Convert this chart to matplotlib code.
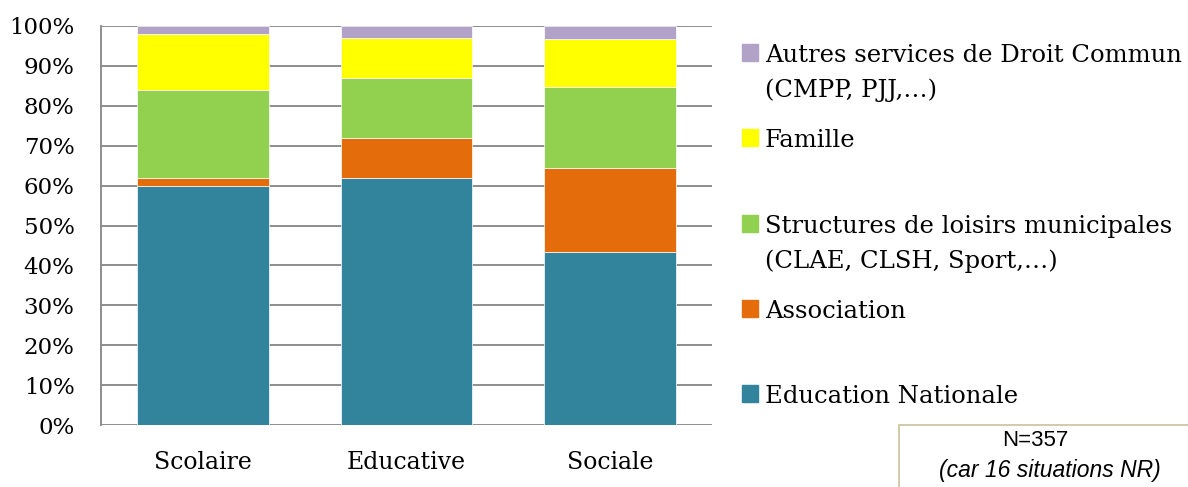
import matplotlib.pyplot as plt
from matplotlib.patches import Rectangle
from matplotlib.ticker import PercentFormatter, MultipleLocator

# Données
categories = ["Scolaire", "Educative", "Sociale"]
series_names = [
    "Education Nationale",
    "Association",
    "Structures de loisirs municipales\n(CLAE, CLSH, Sport,…)",
    "Famille",
    "Autres services de Droit Commun\n(CMPP, PJJ,…)",
]
education = [60.0, 62.0, 43.4]
association = [2.0, 10.0, 21.1]
structures = [22.0, 15.0, 20.1]
famille = [14.0, 10.0, 12.1]
autres = [2.0, 3.0, 3.3]
colors = ["#31849B", "#E46C0A", "#92D050", "#FFFF00", "#B2A2C7"]

W, H = 1188, 487
fig = plt.figure(figsize=(W / 100, H / 100), dpi=100)
ax = fig.add_axes([101 / W, 1 - 425 / H, 611 / W, 399 / H])

serif = "DejaVu Serif"
values = [education, association, structures, famille, autres]
bottom = [0.0] * len(categories)
for vals, col in zip(values, colors):
    ax.bar(categories, vals, bottom=bottom, width=0.645, color=col,
           edgecolor="white", linewidth=0.5, zorder=3)
    bottom = [b + v for b, v in zip(bottom, vals)]

ax.set_ylim(0, 100)
ax.set_xlim(-0.5, 2.5)
ax.yaxis.set_major_locator(MultipleLocator(10))
ax.yaxis.set_major_formatter(PercentFormatter(decimals=0))
ax.grid(axis="y", color="#868686", linewidth=1.3, zorder=0)
for s in ["top", "right", "bottom"]:
    ax.spines[s].set_visible(False)
ax.spines["left"].set_color("#868686")
ax.spines["left"].set_linewidth(1.3)
ax.tick_params(axis="y", length=0, labelsize=16.5, pad=19)
ax.tick_params(axis="x", length=0, labelsize=17, pad=19)
for lbl in ax.get_xticklabels() + ax.get_yticklabels():
    lbl.set_fontfamily(serif)
    lbl.set_color("black")

# Légende (ordre inversé, lignes de base comme l'original)
leg_base = [61, 146, 232, 317, 402]
line_step = 35
for name, col, yb in zip(series_names[::-1], colors[::-1], leg_base):
    fig.patches.append(Rectangle((742 / W, 1 - yb / H), 16 / W, 17 / H,
                                 transform=fig.transFigure, color=col))
    for i, line in enumerate(name.split("\n")):
        fig.text(765 / W, 1 - (yb + 1 + i * line_step) / H, line, family=serif,
                 fontsize=17.5, va="baseline", ha="left")

# Encadré N
fig.patches.append(Rectangle((899 / W, -0.1), 0.3, 1 - 425 / H + 0.1,
                             transform=fig.transFigure, facecolor="white",
                             edgecolor="#CFC7A4", linewidth=1.3, clip_on=False))
fig.text(1035 / W, 1 - 441 / H, "N=357", family="Liberation Sans", fontsize=16,
         ha="center", va="center")
fig.text(1050 / W, 1 - 470 / H, "(car 16 situations NR)", family="Liberation Sans",
         fontsize=16.5, style="italic", ha="center", va="center")

fig.savefig("out.png", dpi=100)
